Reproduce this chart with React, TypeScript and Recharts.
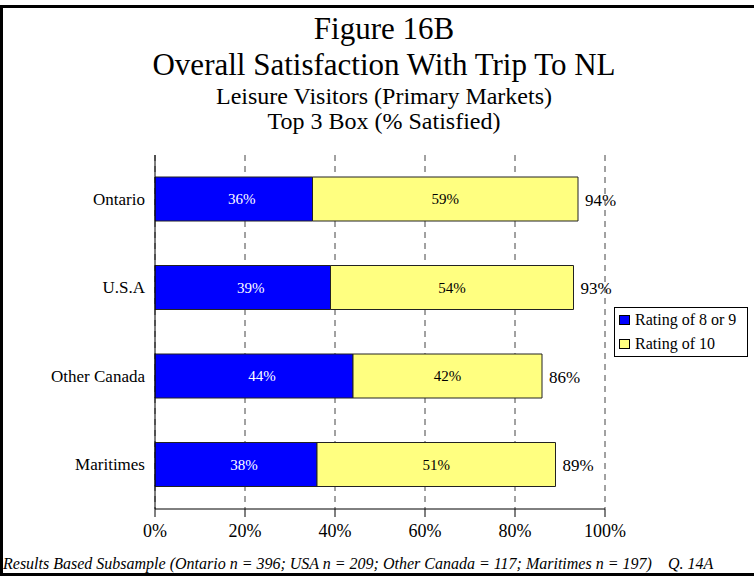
import { BarChart, Bar, XAxis, YAxis, CartesianGrid, LabelList } from 'recharts';

const regions = ['Ontario', 'U.S.A', 'Other Canada', 'Maritimes'];
// bar lengths as drawn
const ratingNine = [35, 39, 44, 36];
const ratingTen = [59, 54, 42, 53];
// printed labels
const nineLabels = [36, 39, 44, 38];
const tenLabels = [59, 54, 42, 51];
const totalLabels = [94, 93, 86, 89];
const xTicks = [0, 20, 40, 60, 80, 100];
const legendItems = [
  { color: '#0000FF', text: 'Rating of 8 or 9' },
  { color: '#FFFF80', text: 'Rating of 10' },
];

const data = regions.map((name, i) => ({
  name,
  nine: ratingNine[i],
  ten: ratingTen[i],
  nineLabel: nineLabels[i],
  tenLabel: tenLabels[i],
  total: totalLabels[i],
}));

const FONT = '"Liberation Serif", "Times New Roman", serif';

const NineLabel = (props: any) => {
  const { x, y, width, height, value } = props;
  return (
    <text x={x + width / 2 + 8} y={y + height / 2} fill="#fff" fontSize={15} fontFamily={FONT}
      textAnchor="middle" dominantBaseline="central">{value}%</text>
  );
};

const TenLabel = (props: any) => {
  const { x, y, width, height, value } = props;
  return (
    <text x={x + width / 2} y={y + height / 2} fill="#000" fontSize={15} fontFamily={FONT}
      textAnchor="middle" dominantBaseline="central">{value}%</text>
  );
};

const TotalLabel = (props: any) => {
  const { x, y, width, height, value } = props;
  return (
    <text x={x + width + 7} y={y + height / 2 + 1} fill="#000" fontSize={17} fontFamily={FONT}
      textAnchor="start" dominantBaseline="central">{value}%</text>
  );
};

const CategoryTick = (props: any) => {
  const { x, y, payload } = props;
  return (
    <text x={x} y={y} fill="#000" fontSize={17} fontFamily={FONT} textAnchor="end" dominantBaseline="central">
      {payload.value}
    </text>
  );
};

const App = () => {
  return (
    <div style={{ position: 'absolute', left: 0, top: 0, width: 754, height: 576, background: '#fff' }}>
      <BarChart width={754} height={576} data={data} layout="vertical"
        margin={{ top: 155, right: 149, bottom: 37, left: 5 }} barSize={44}>
        <CartesianGrid horizontal={false} stroke="#444" strokeDasharray="6 5" />
        <XAxis type="number" domain={[0, 100]} ticks={xTicks} tickFormatter={(v) => v + '%'}
          height={30} tickSize={8} tickMargin={7} stroke="#000"
          tick={{ fill: '#000', fontSize: 18, fontFamily: FONT }} />
        <YAxis type="category" dataKey="name" width={150} tickLine={false} tickSize={6} tickMargin={4}
          stroke="#000" tick={<CategoryTick />} />
        <Bar dataKey="nine" stackId="a" fill="#0000FF" stroke="#222" strokeWidth={1} isAnimationActive={false}>
          <LabelList dataKey="nineLabel" content={<NineLabel />} />
        </Bar>
        <Bar dataKey="ten" stackId="a" fill="#FFFF80" stroke="#222" strokeWidth={1} isAnimationActive={false}>
          <LabelList dataKey="tenLabel" content={<TenLabel />} />
          <LabelList dataKey="total" content={<TotalLabel />} />
        </Bar>
      </BarChart>
      <div style={{ position: 'absolute', left: 614, top: 307, width: 132, border: '1px solid #000', background: '#fff', fontFamily: FONT, fontSize: 16, color: '#000' }}>
        {legendItems.map((it) => (
          <div key={it.text} style={{ height: 24, lineHeight: '24px', display: 'flex', alignItems: 'center', paddingLeft: 4 }}>
            <span style={{ display: 'inline-block', width: 11, height: 10, background: it.color, border: '1px solid #000', marginRight: 5, boxSizing: 'border-box' }} />
            <span>{it.text}</span>
          </div>
        ))}
      </div>
      <svg width={754} height={576} style={{ position: 'absolute', left: 0, top: 0, pointerEvents: 'none' }}>
        <line x1={0} y1={6.5} x2={754} y2={6.5} stroke="#000" strokeWidth={3} />
        <line x1={1.5} y1={5} x2={1.5} y2={576} stroke="#000" strokeWidth={3} />
        <line x1={0} y1={574.5} x2={754} y2={574.5} stroke="#000" strokeWidth={3} />
        <g fontFamily={FONT} fill="#000" textAnchor="middle">
          <text x={384} y={39} fontSize={31}>Figure 16B</text>
          <text x={384} y={75} fontSize={31}>Overall Satisfaction With Trip To NL</text>
          <text x={384} y={104} fontSize={24}>Leisure Visitors (Primary Markets)</text>
          <text x={384} y={129} fontSize={24}>Top 3 Box (% Satisfied)</text>
        </g>
        <g fontFamily={FONT} fill="#000" fontStyle="italic" fontSize={16}>
          <text x={3} y={569}>Results Based Subsample (Ontario n = 396; USA n = 209; Other Canada = 117; Maritimes n = 197)</text>
          <text x={668} y={569}>Q. 14A</text>
        </g>
      </svg>
    </div>
  );
};

export default App;
